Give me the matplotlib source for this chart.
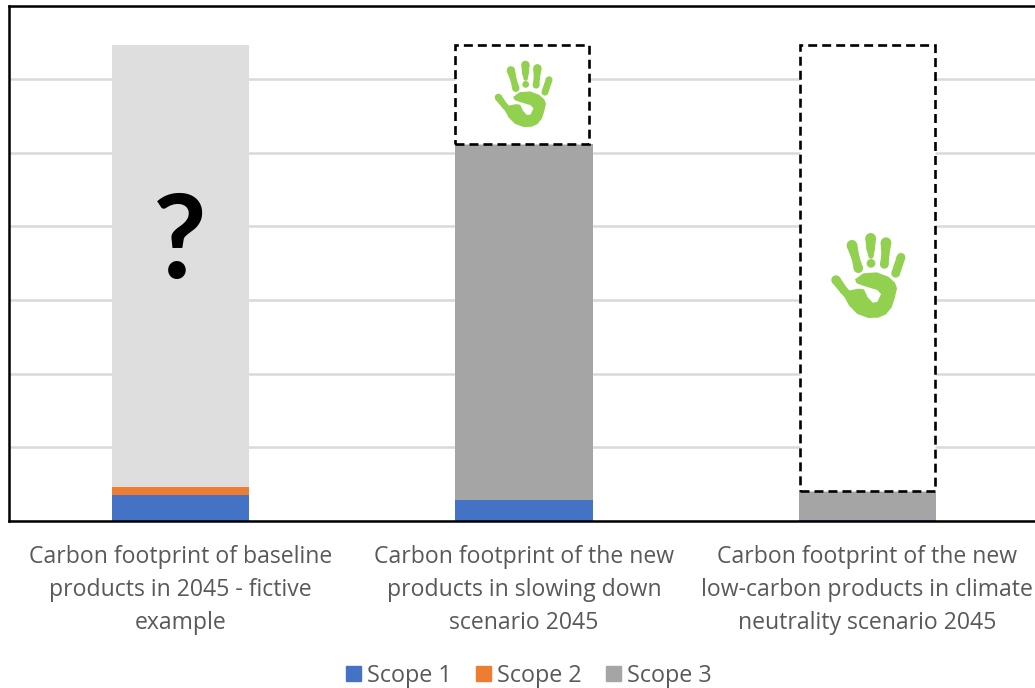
import matplotlib
matplotlib.use("Agg")
import matplotlib.pyplot as plt
import numpy as np
from matplotlib.patches import Circle, Polygon, Patch
from matplotlib.transforms import Affine2D

plt.rcParams["font.family"] = ["Open Sans", "DejaVu Sans"]

# ---- data ----
categories = [
    "Carbon footprint of baseline\nproducts in 2045 - fictive\nexample",
    "Carbon footprint of the new\nproducts in slowing down\nscenario 2045",
    "Carbon footprint of the new\nlow-carbon products in climate\nneutrality scenario 2045",
]
scope1 = [0.35, 0.285, 0.015]
scope2 = [0.11, 0.0, 0.0]
scope3 = [0.0, 4.83, 0.39]
unknown = [6.0, 0.0, 0.0]   # baseline remainder, not in the legend
target_total = 6.47         # top of the dashed "avoided" boxes

BLUE = "#4472C4"
ORANGE = "#ED7D31"
GREY = "#A5A5A5"
LIGHT = "#DEDEDE"
GREEN = "#92D050"
TEXT = "#595959"

W, H = 1035, 688

# hand outline, in its own local units (y pointing down)
palm = [(165, 178), (190, 160), (230, 157), (265, 170), (285, 188), (291, 205), (284, 235),
        (275, 262), (258, 283), (235, 293), (205, 294), (172, 282), (148, 258), (130, 225),
        (150, 211), (175, 206), (192, 208), (203, 232), (218, 248), (232, 246), (243, 222),
        (232, 210), (195, 199), (170, 190)]
# fingers as chains of (x, y, radius)
fingers = [
    [(108, 180, 14), (132, 212, 12), (145, 225, 12)],
    [(156, 76, 16), (167, 115, 12), (175, 145, 14)],
    [(212, 55, 16), (212, 85, 13), (213, 108, 8)],
    [(213, 130, 13)],
    [(258, 68, 16), (256, 105, 12), (253, 133, 13)],
    [(303, 112, 13), (287, 160, 13)],
]


def draw_hand(ax, k, x0, y0):
    # k: pixels per local unit, (x0, y0): pixel position of the local origin
    tr = Affine2D().scale(k, -k).translate(x0, H - y0)
    kw = dict(facecolor=GREEN, edgecolor="none", transform=tr, clip_on=False, zorder=6)
    ax.add_patch(Polygon(palm, closed=True, **kw))
    for chain in fingers:
        for (xa, ya, ra) in chain:
            ax.add_patch(Circle((xa, ya), ra, **kw))
        for (xa, ya, ra), (xb, yb, rb) in zip(chain[:-1], chain[1:]):
            d = np.array([yb - ya, xa - xb], dtype=float)
            d /= np.hypot(*d)
            quad = [(xa + d[0] * ra, ya + d[1] * ra), (xb + d[0] * rb, yb + d[1] * rb),
                    (xb - d[0] * rb, yb - d[1] * rb), (xa - d[0] * ra, ya - d[1] * ra)]
            ax.add_patch(Polygon(quad, closed=True, **kw))


fig = plt.figure(figsize=(W / 100, H / 100), dpi=100, facecolor="white")
ax = fig.add_axes([9 / W, (H - 521) / H, 1030 / W, 515.5 / H])

x = np.arange(len(categories))
s1 = np.array(scope1)
s2 = np.array(scope2)
s3 = np.array(scope3)
width = 0.40

ax.bar(x, s1, width, color=BLUE, zorder=3)
ax.bar(x, s2, width, bottom=s1, color=ORANGE, zorder=3)
ax.bar(x, s3, width, bottom=s1 + s2, color=GREY, zorder=3)
ax.bar(x, unknown, width, bottom=s1 + s2 + s3, color=LIGHT, zorder=3)

# dashed boxes on the two scenario bars
totals = s1 + s2 + s3
ax.bar([0.993, 2.0], target_total - totals[1:], [0.39, 0.393], bottom=totals[1:],
       facecolor="white", edgecolor="black", linewidth=1.9,
       linestyle=(0, (3.4, 1.9)), zorder=4)

ax.text(-0.003, 3.76, "?", family="Lato", fontweight="bold", fontsize=84,
        color="black", ha="center", va="center", zorder=5)

draw_hand(ax, 0.26, 470.3, 50.6)
draw_hand(ax, 1 / 3, 800, 220)

ax.set_xlim(-0.5, 2.5)
ax.set_ylim(0, 7)
ax.set_yticks(np.arange(0, 8))
ax.set_yticklabels([])
ax.set_xticks(x)
ax.set_xticklabels(categories, fontsize=16.6, color=TEXT, linespacing=1.5)
ax.tick_params(axis="both", length=0)
ax.tick_params(axis="x", pad=17.5)
ax.grid(axis="y", color="#D9D9D9", linewidth=1.8, zorder=1)
ax.set_axisbelow(True)
for side in ax.spines:
    ax.spines[side].set_linewidth(1.8)
    ax.spines[side].set_color("black")
    ax.spines[side].set_zorder(7)

handles = [Patch(color=BLUE, label="Scope 1"),
           Patch(color=ORANGE, label="Scope 2"),
           Patch(color=GREY, label="Scope 3")]
fig.legend(handles=handles, loc="center", bbox_to_anchor=(529 / W, (H - 675.5) / H),
           ncol=3, frameon=False, fontsize=16.8, labelcolor=TEXT,
           handlelength=0.64, handleheight=0.64, handletextpad=0.25, columnspacing=1.05,
           borderpad=0, borderaxespad=0)

fig.savefig("out.png", dpi=100)
